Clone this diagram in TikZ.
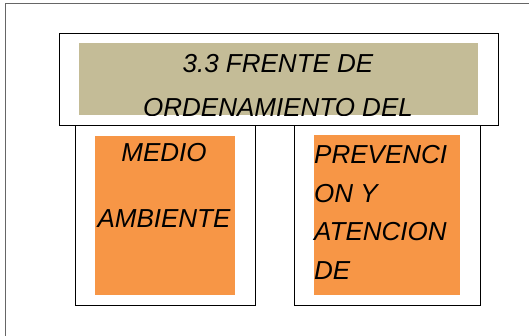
\documentclass[tikz,border=0pt]{standalone}
\usepackage{fontspec}
\setmainfont{Liberation Sans}
\definecolor{tan}{HTML}{C4BC97}
\definecolor{orng}{HTML}{F79646}
\tikzset{
  frame/.style={draw=black, line width=1.4pt, fill=white, inner sep=0pt, anchor=north west},
  fillbox/.style={inner sep=0pt, anchor=north west, draw=none},
  lbl/.style={inner sep=0pt, font=\fontsize{26}{30}\selectfont\itshape, text=black},
}
\begin{document}
\begin{tikzpicture}[x=1pt,y=-1pt]
\useasboundingbox (0,0) rectangle (529,336);
\draw[draw=gray!80!black, line width=1pt] (5,340) -- (5,4) -- (535,4);
% lower boxes
\node[frame, minimum width=180pt, minimum height=180pt] (lbox) at (75,125) {};
\node[frame, minimum width=186pt, minimum height=180pt] (rbox) at (294,125) {};
\node[fillbox, fill=orng, minimum width=140pt, minimum height=159pt] (lfill) at (95,136) {};
\node[fillbox, fill=orng, minimum width=146pt, minimum height=160pt] (rfill) at (314,135) {};
% top box
\node[frame, minimum width=439pt, minimum height=92pt] (tbox) at (59,33) {};
\node[fillbox, fill=tan, minimum width=399pt, minimum height=72pt] (tfill) at (79,43) {};
\begin{scope}
\clip (tfill.north west) rectangle (tfill.south east);
\node[lbl] (t1) at (278,64) {3.3 FRENTE DE};
\node[lbl] (t2) at (278,108) {ORDENAMIENTO DEL};
\end{scope}
% left texts
\node[lbl] (m1) at (164,153) {MEDIO};
\node[lbl] (m2) at (164,219) {AMBIENTE};
% right texts
\node[lbl, anchor=west] (p1) at (314,155) {PREVENCI};
\node[lbl, anchor=west] (p2) at (314,194) {ON Y};
\node[lbl, anchor=west] (p3) at (314,232) {ATENCION};
\node[lbl, anchor=west] (p4) at (314,271) {DE};
\end{tikzpicture}
\end{document}
